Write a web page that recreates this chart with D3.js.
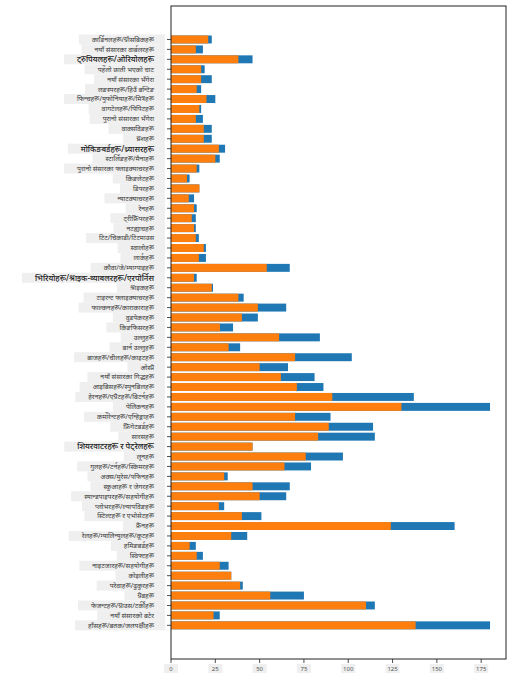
<!DOCTYPE html>
<html lang="ne">
<head>
<meta charset="utf-8">
<title>मिनेसोटाका चराहरू</title>
<style>
  body { margin: 0; background: #fff; }
  svg { display: block; font-family: "Noto Sans", "Noto Sans Devanagari", sans-serif; }
</style>
</head>
<body>
<svg id="chart"></svg>
<script src="https://cdn.jsdelivr.net/npm/d3@7/dist/d3.min.js"></script>
<script>
// categories listed top to bottom, as they appear on the chart
const categories = [
  'कार्डिनलहरू/ग्रोसबिकहरू', 'नयाँ संसारका वार्बलरहरू', 'ट्रुपियलहरू/ओरियोलहरू',
  'पहेंलो छाती भएको चाट', 'नयाँ संसारका भँगेरा', 'लङस्परहरू/हिउँ बन्टिङ',
  'फिन्चहरू/युफोनियाहरू/मित्रहरू', 'वागटेलहरू/पिपिटहरू', 'पुरानो संसारका भँगेरा',
  'वाक्सविङहरू', 'थ्रशहरू', 'मोकिङबर्डहरू/थ्र्यासरहरू', 'स्टार्लिङहरू/मैनाहरू',
  'पुरानो संसारका फ्लाइक्याचरहरू', 'किङलेटहरू', 'डिपरहरू', 'न्याटक्याचरहरू',
  'रेनहरू', 'ट्रीक्रिपरहरू', 'नटह्याचहरू', 'टिट/चिकाडी/टिटमाउस', 'स्वालोहरू',
  'लार्कहरू', 'कौवा/जे/म्याग्पाइहरू', 'भिरियोहरू/श्राइक-ब्याबलरहरू/एरपोर्निस',
  'श्राइकहरू', 'टाइरन्ट फ्लाइक्याचरहरू', 'फाल्कनहरू/काराकाराहरू', 'वुडपेकरहरू',
  'किङफिसरहरू', 'उल्लुहरू', 'बार्न उल्लुहरू', 'बाजहरू/चीलहरू/काइटहरू', 'ओस्प्रे',
  'नयाँ संसारका गिद्धहरू', 'आइबिसहरू/स्पुनबिलहरू', 'हेरनहरू/एग्रेटहरू/बिटर्नहरू',
  'पेलिकनहरू', 'कर्मोरेन्टहरू/एन्हिङ्गाहरू', 'फ्रिगेटबर्डहरू', 'सारसहरू',
  'शियरवाटरहरू र पेट्रेलहरू', 'लूनहरू', 'गुलहरू/टर्नहरू/स्किमरहरू',
  'अक्स/मुरेस/पफिनहरू', 'स्कुआहरू र जेगरहरू', 'स्यान्डपाइपरहरू/सहयोगीहरू',
  'प्लोभरहरू/ल्यापविङहरू', 'स्टिल्टहरू र एभोसेटहरू', 'क्रेनहरू',
  'रेलहरू/ग्यालिन्युलहरू/कूटहरू', 'हमिङबर्डहरू', 'स्विफ्टहरू',
  'नाइटजारहरू/सहयोगीहरू', 'कोइलीहरू', 'परेवाहरू/ढुकुरहरू', 'ग्रेबहरू',
  'फेजन्टहरू/ग्राउस/टर्कीहरू', 'नयाँ संसारको बटेर', 'हाँसहरू/बतक/जलपक्षीहरू'
];

const minLength = [
  21, 14, 38, 17, 17, 14.5, 20, 16, 14, 18.5,
  18.5, 27, 25, 14.5, 9, 16, 10, 13, 11.7, 13,
  14, 18.5, 15.7, 54, 13, 23, 38, 49, 40, 27.6,
  61, 32.5, 70, 50, 62, 71, 91, 130, 70, 89,
  83, 46, 76, 64, 30, 46, 50, 27, 40, 124,
  34, 10.5, 14.5, 27.5, 34, 39, 56, 110, 24, 138
];

const maxLength = [
  23, 18, 46, 19, 23, 17, 25, 17, 18, 23,
  23, 30.5, 27.5, 16, 10.5, 16, 13, 14.5, 14, 14,
  15.7, 19.7, 19.7, 67, 14.5, 23.7, 41, 65, 49, 35,
  84, 39, 102, 66, 81, 86, 137, 180, 90, 114,
  115, 46, 97, 79, 32, 67, 65, 30, 51, 160,
  43, 14, 18, 32.5, 34, 40.5, 75, 115, 27.5, 180
];

const xTicks = [0, 25, 50, 75, 100, 125, 150, 175];

// labels the translated picture draws a little larger
const bigLabels = new Set([2, 11, 24, 41]);

const [width, height] = [512, 683];
const plot = { left: 171, right: 506, top: 6, bottom: 659 };

const svg = d3.select('#chart')
  .attr('width', width)
  .attr('height', height);

const x = d3.scaleLinear()
  .domain([0, 189])
  .range([plot.left, plot.right]);

const y = d3.scaleBand()
  .domain(categories)
  .range([34.5, 630.3])
  .paddingInner(0.2)
  .paddingOuter(0.1);

const rows = categories.map((c, i) => ({ cat: c, min: minLength[i], max: maxLength[i], i: i }));

// max length first, min length drawn over it
svg.append('g')
  .selectAll('rect')
  .data(rows)
  .enter()
  .append('rect')
  .attr('x', x(0))
  .attr('y', d => y(d.cat))
  .attr('width', d => x(d.max) - x(0))
  .attr('height', y.bandwidth())
  .attr('fill', '#1f77b4');

svg.append('g')
  .selectAll('rect')
  .data(rows)
  .enter()
  .append('rect')
  .attr('x', x(0))
  .attr('y', d => y(d.cat))
  .attr('width', d => x(d.min) - x(0))
  .attr('height', y.bandwidth())
  .attr('fill', '#ff7f0e');

// frame
svg.append('rect')
  .attr('x', plot.left)
  .attr('y', plot.top)
  .attr('width', plot.right - plot.left)
  .attr('height', plot.bottom - plot.top)
  .attr('fill', 'none')
  .attr('stroke', '#222')
  .attr('stroke-width', 1);

// y ticks and labels
let yLab = svg.append('g')
  .selectAll('g')
  .data(rows)
  .enter()
  .append('g')
  .attr('transform', d => 'translate(0,' + (y(d.cat) + y.bandwidth() / 2) + ')');

yLab.append('line')
  .attr('x1', plot.left - 4)
  .attr('x2', plot.left)
  .attr('stroke', '#222')
  .attr('stroke-width', 0.8);

yLab.append('text')
  .text(d => d.cat)
  .attr('x', plot.left - 17)
  .attr('dy', '0.35em')
  .attr('text-anchor', 'end')
  .style('font-size', d => bigLabels.has(d.i) ? '8px' : '6.8px')
  .style('font-weight', d => bigLabels.has(d.i) ? 500 : 400)
  .attr('fill', d => bigLabels.has(d.i) ? '#222' : '#3a3a3a');

yLab.each(function () {
  let g = d3.select(this);
  let w = g.select('text').node().getComputedTextLength();
  g.insert('rect', 'text')
    .attr('x', plot.left - 6 - w - 24)
    .attr('y', -5)
    .attr('width', w + 24)
    .attr('height', 10)
    .attr('fill', '#efefef');
});

// x ticks and labels
let xLab = svg.append('g')
  .selectAll('g')
  .data(xTicks)
  .enter()
  .append('g')
  .attr('transform', d => 'translate(' + x(d) + ',' + plot.bottom + ')');

xLab.append('line')
  .attr('y2', 4)
  .attr('stroke', '#222')
  .attr('stroke-width', 0.8);

xLab.append('rect')
  .attr('x', -7)
  .attr('y', 5)
  .attr('width', 14)
  .attr('height', 9)
  .attr('fill', '#efefef');

xLab.append('text')
  .text(d => d)
  .attr('y', 12)
  .attr('text-anchor', 'middle')
  .style('font-size', '6px')
  .attr('fill', '#555');
</script>
</body>
</html>
